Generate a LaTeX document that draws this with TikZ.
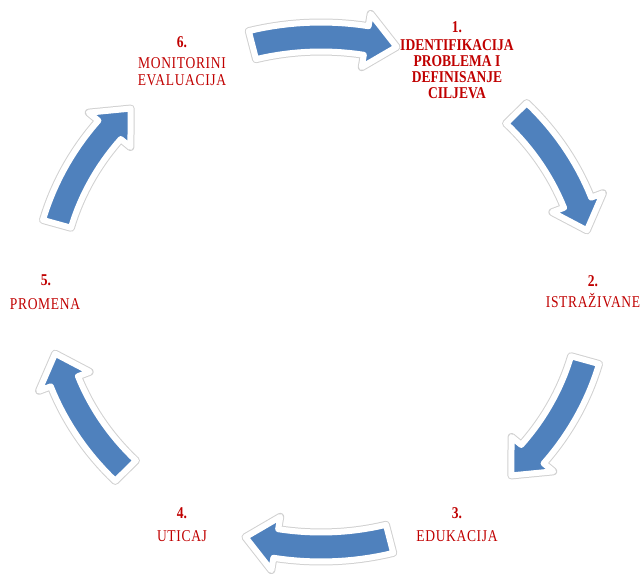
\documentclass[tikz,border=0pt]{standalone}
\usepackage{fontspec}
\setmainfont{Liberation Serif}
\newfontfamily\stepfont{Liberation Serif}[FakeStretch=0.82]
\newfontfamily\stepfontwide{Liberation Serif}[FakeStretch=0.82,LetterSpace=4]
\definecolor{stepred}{RGB}{192,0,0}
\definecolor{arrowblue}{RGB}{79,129,189}
\tikzset{
  stepnum/.style={anchor=base, text=stepred, inner sep=0pt, font=\stepfont\bfseries\fontsize{16.5}{16.5}\selectfont},
  stepname/.style={anchor=base, align=center, text=stepred, inner sep=0pt, font=\stepfontwide\fontsize{16.5}{17}\selectfont},
  stepnamebold/.style={stepname, font=\stepfont\bfseries\fontsize{16.5}{16}\selectfont},
  cyclearrow/.style={fill=arrowblue, draw=white, line width=6pt, line join=round,
    preaction={draw=black!18, line width=8pt, line join=round}}
}

\begin{document}
\begin{tikzpicture}[x=1pt,y=-1pt]
\useasboundingbox (0,0) rectangle (641,575);

\foreach \a in {-104.5,-44.5,15.5,75.5,135.5,195.5} {
  \pgfmathsetmacro\b{\a+24}
  \pgfmathsetmacro\c{\a+30.5}
  \draw[cyclearrow] plot[domain=\a:\b,samples=16] ({321+288.5*cos(\x)},{292+269.5*sin(\x)})
    -- ({321+301*cos(\b)},{292+282*sin(\b)})
    -- ({321+274*cos(\c)},{292+255*sin(\c)})
    -- ({321+247*cos(\b)},{292+228*sin(\b)})
    -- plot[domain=\b:\a,samples=16] ({321+259.5*cos(\x)},{292+240.5*sin(\x)}) -- cycle;
}

\node[stepnum] (num1) at (457,33) {1.};
\node[stepnamebold] (name1) at (457,99) {IDENTIFIKACIJA\\PROBLEMA I\\DEFINISANJE\\CILJEVA};

\node[stepnum] (num2) at (593,287) {2.};
\node[stepname] (name2) at (593,308) {ISTRAŽIVANE};

\node[stepnum] (num3) at (457,518) {3.};
\node[stepname] (name3) at (457,541) {EDUKACIJA};

\node[stepnum] (num4) at (182,518) {4.};
\node[stepname] (name4) at (182,541) {UTICAJ};

\node[stepnum] (num5) at (46,286) {5.};
\node[stepname] (name5) at (45,309) {PROMENA};

\node[stepnum] (num6) at (182,48) {6.};
\node[stepname] (name6) at (182,86) {MONITORINI\\EVALUACIJA};

\end{tikzpicture}
\end{document}
